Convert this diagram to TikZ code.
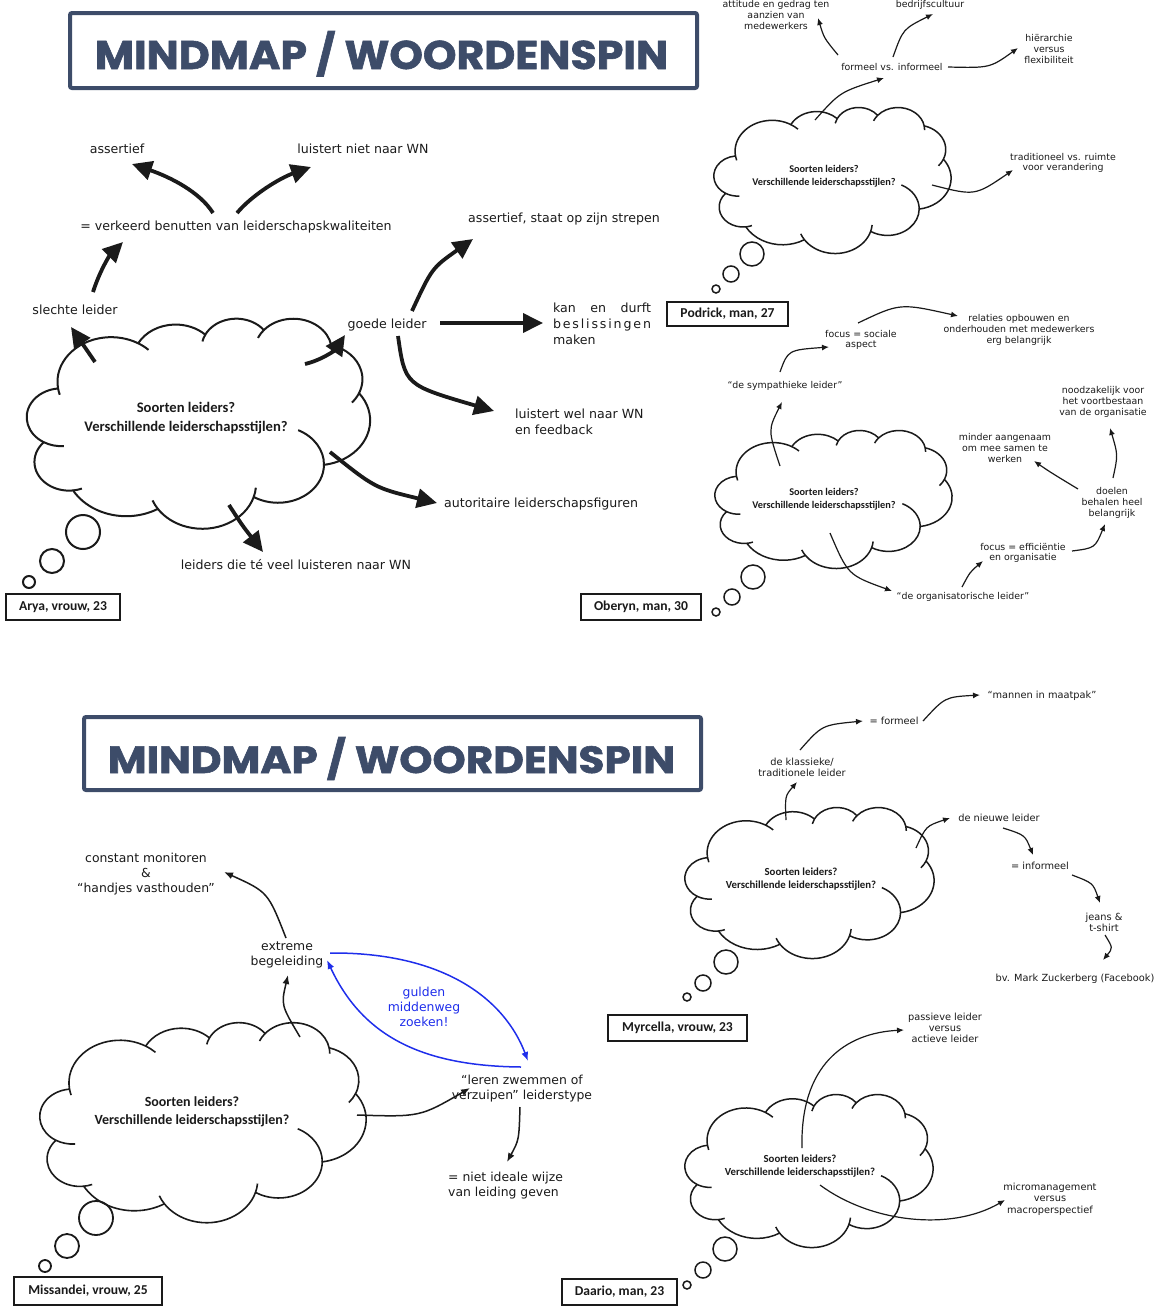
\documentclass[tikz,border=0pt]{standalone}
\usepackage{graphicx}
\usepackage{fontspec}
\setmainfont{DejaVu Sans}
\newfontfamily\calibfont{Carlito}
\newfontfamily\titlefont{Poppins}[BoldFeatures={FakeBold=1.5}]
\usetikzlibrary{arrows.meta}

\definecolor{slate}{HTML}{3D4C69}
\definecolor{ink}{HTML}{1A1A1A}
\definecolor{bluepen}{HTML}{1F2EEB}

% Each lobe of the cloud is an elliptic arc; the angles below are the visual
% angles of the lobe ends, turned into parametric angles for TikZ.
\newcommand\setcloudarc[5]{%
  \pgfmathsetmacro\cldA{atan2(#2*sin(#4),#3*cos(#4))}%
  \pgfmathsetmacro\cldB{atan2(#2*sin(#4+#5),#3*cos(#4+#5))}%
  \pgfmathsetmacro\cldD{(#5>0) ? mod((\cldB)-(\cldA)+720,360) : -mod((\cldA)-(\cldB)+720,360)}%
  \expandafter\xdef\csname cloudS#1\endcsname{\cldA}%
  \expandafter\xdef\csname cloudD#1\endcsname{\cldD}%
}
% outline lobes (units of 1/1000 of the 43.2 box)
\setcloudarc{a}{6.753}{9.190}{-190.4875}{123.7805}
\setcloudarc{b}{5.333}{7.267}{-144.1024}{89.9452}
\setcloudarc{c}{4.365}{5.945}{-145.8079}{99.7230}
\setcloudarc{d}{4.857}{6.595}{-130.9861}{117.2417}
\setcloudarc{e}{5.333}{7.273}{-78.7089}{109.0269}
\setcloudarc{f}{6.775}{9.220}{-46.2673}{130.2690}
\setcloudarc{g}{5.785}{7.867}{0.6250}{114.0333}
\setcloudarc{h}{6.752}{9.215}{22.4516}{115.1726}
\setcloudarc{i}{7.720}{10.543}{66.2426}{75.7110}
\setcloudarc{j}{4.360}{5.918}{-274.9421}{146.7356}
\setcloudarc{k}{4.345}{5.945}{-246.8285}{152.5189}
% short fold lines, drawn from the junctions of the lobes
\setcloudarc{A}{6.753}{9.190}{169.5125}{-11.8582}
\setcloudarc{B}{6.753}{9.190}{-66.7070}{12.3194}
\setcloudarc{C}{4.365}{5.945}{-145.8079}{-17.6864}
\setcloudarc{D}{4.857}{6.595}{-130.9861}{-18.1954}
\setcloudarc{E}{4.857}{6.595}{-13.7444}{14.8589}
\setcloudarc{F}{5.333}{7.273}{30.3180}{19.7813}
\setcloudarc{G}{5.785}{7.867}{0.6250}{-70.9174}
\setcloudarc{H}{6.752}{9.215}{22.4516}{-15.9984}
\setcloudarc{I}{6.752}{9.215}{137.6242}{14.0811}
\setcloudarc{J}{4.360}{5.918}{-274.9421}{-11.4475}
\setcloudarc{K}{4.345}{5.945}{-246.8285}{-26.4295}

% \thoughtcloud[line width]{left}{top}{width}{height}
\newcommand\thoughtcloud[5][1.5pt]{%
  \begin{scope}[shift={(#2,#3)}, x=1cm, y=1cm, xscale=#4/1229.16, yscale=-#5/1229.16]
    \draw[line width=#1, ink, line join=round] (3.9,14.37) coordinate (cj0)
      arc[start angle=\cloudSa, delta angle=\cloudDa, x radius=6.753, y radius=9.190] coordinate (cj1)
      arc[start angle=\cloudSb, delta angle=\cloudDb, x radius=5.333, y radius=7.267] coordinate (cj2)
      arc[start angle=\cloudSc, delta angle=\cloudDc, x radius=4.365, y radius=5.945] coordinate (cj3)
      arc[start angle=\cloudSd, delta angle=\cloudDd, x radius=4.857, y radius=6.595] coordinate (cj4)
      arc[start angle=\cloudSe, delta angle=\cloudDe, x radius=5.333, y radius=7.273] coordinate (cj5)
      arc[start angle=\cloudSf, delta angle=\cloudDf, x radius=6.775, y radius=9.220] coordinate (cj6)
      arc[start angle=\cloudSg, delta angle=\cloudDg, x radius=5.785, y radius=7.867] coordinate (cj7)
      arc[start angle=\cloudSh, delta angle=\cloudDh, x radius=6.752, y radius=9.215] coordinate (cj8)
      arc[start angle=\cloudSi, delta angle=\cloudDi, x radius=7.720, y radius=10.543] coordinate (cj9)
      arc[start angle=\cloudSj, delta angle=\cloudDj, x radius=4.360, y radius=5.918] coordinate (cj10)
      arc[start angle=\cloudSk, delta angle=\cloudDk, x radius=4.345, y radius=5.945] -- cycle;
    \draw[line width=#1, ink]
      (cj0) arc[start angle=\cloudSA, delta angle=\cloudDA, x radius=6.753, y radius=9.190]
      (cj1) arc[start angle=\cloudSB, delta angle=\cloudDB, x radius=6.753, y radius=9.190]
      (cj2) arc[start angle=\cloudSC, delta angle=\cloudDC, x radius=4.365, y radius=5.945]
      (cj3) arc[start angle=\cloudSD, delta angle=\cloudDD, x radius=4.857, y radius=6.595]
      (cj4) arc[start angle=\cloudSE, delta angle=\cloudDE, x radius=4.857, y radius=6.595]
      (cj5) arc[start angle=\cloudSF, delta angle=\cloudDF, x radius=5.333, y radius=7.273]
      (cj6) arc[start angle=\cloudSG, delta angle=\cloudDG, x radius=5.785, y radius=7.867]
      (cj7) arc[start angle=\cloudSH, delta angle=\cloudDH, x radius=6.752, y radius=9.215]
      (cj8) arc[start angle=\cloudSI, delta angle=\cloudDI, x radius=6.752, y radius=9.215]
      (cj9) arc[start angle=\cloudSJ, delta angle=\cloudDJ, x radius=4.360, y radius=5.918]
      (cj10) arc[start angle=\cloudSK, delta angle=\cloudDK, x radius=4.345, y radius=5.945];
  \end{scope}}

\begin{document}
\begin{tikzpicture}[x=1pt, y=-1pt,
  txt/.style={inner sep=0pt, align=center, text=ink},
  bigtxt/.style={txt, font=\fontsize{12.6}{16}\selectfont},
  midtxt/.style={txt, font=\fontsize{12.4}{15}\selectfont},
  smalltxt/.style={txt, font=\fontsize{9.4}{10.7}\selectfont},
  smalltxtb/.style={txt, font=\fontsize{9.8}{11.3}\selectfont},
  cloudbig/.style={txt, font=\calibfont\bfseries\fontsize{14.6}{19}\selectfont},
  cloudmid/.style={txt, font=\calibfont\bfseries\fontsize{14}{18}\selectfont},
  cloudsmall/.style={txt, font=\calibfont\bfseries\fontsize{10.3}{12.6}\selectfont},
  cloudsmallb/.style={txt, font=\calibfont\bfseries\fontsize{10.8}{13}\selectfont},
  who/.style={draw=ink, line width=2.4pt, inner sep=0pt, text=ink,
    font=\calibfont\bfseries\fontsize{13.6}{16}\selectfont},
  titlebox/.style={draw=slate, line width=4pt, rounded corners=2pt},
  bubble/.style={draw=ink},
  fat/.style={draw=ink, line width=3.8pt, -{Triangle[length=20pt,width=19pt]}},
  thin/.style={draw=ink, line width=1.2pt, -{Latex[length=7pt,width=6pt]}},
  medium/.style={draw=ink, line width=1.5pt, -{Latex[length=9pt,width=7pt]}},
  bluearr/.style={draw=bluepen, line width=1.5pt, -{Latex[length=9pt,width=7pt]}}]

\useasboundingbox (0,0) rectangle (1161,1315);
\clip (0,0) rectangle (1161,1315);

% ---------------- titles ----------------
\draw[titlebox] (70,13) rectangle (697,88);
\node[text=slate, inner sep=0pt, anchor=base] (title1) at (381.5,69)
  {\resizebox{573pt}{38pt}{\titlefont\bfseries MINDMAP / WOORDENSPIN}};
\draw[titlebox] (84,717) rectangle (701,790);
\node[text=slate, inner sep=0pt, anchor=base] (title2) at (391.5,773)
  {\resizebox{567pt}{36pt}{\titlefont\bfseries MINDMAP / WOORDENSPIN}};

% ---------------- Arya ----------------
\thoughtcloud[2pt]{27}{318}{343}{210}
\node[cloudbig] (aryaq) at (186,418) {Soorten leiders?\\Verschillende leiderschapsstijlen?};
\draw[bubble, line width=2pt] (83,532) circle[radius=17] (52,561) circle[radius=12] (29,582) circle[radius=6];
\node[who, minimum width=114pt, minimum height=26pt] (arya) at (63,607) {Arya, vrouw, 23};

\node[bigtxt] (assert) at (117,149) {assertief};
\node[bigtxt] (nietwn) at (363,149) {luistert niet naar WN};
\node[bigtxt] (verkeerd) at (236,227) {= verkeerd benutten van leiderschapskwaliteiten};
\node[bigtxt] (slecht) at (75,310) {slechte leider};
\node[bigtxt] (goed) at (387,325) {goede leider};
\node[bigtxt] (strepen) at (564,219) {assertief, staat op zijn strepen};
\node[bigtxt, align=left] (durft) at (602,324)
  {\makebox[98pt][s]{kan\hfill en\hfill durft}\\
   \makebox[98pt][s]{b\hfill e\hfill s\hfill l\hfill i\hfill s\hfill s\hfill i\hfill n\hfill g\hfill e\hfill n}\\
   \makebox[98pt][l]{maken}};
\node[bigtxt, align=left, anchor=west] (welwn) at (515,422) {luistert wel naar WN\\en feedback};
\node[bigtxt, anchor=west] (autor) at (444,504) {autoritaire leiderschapsfiguren};
\node[bigtxt] (teveel) at (296,565) {leiders die té veel luisteren naar WN};

\coordinate (a1s) at (213,213); \coordinate (a1e) at (132,164);
\coordinate (a2s) at (237,213); \coordinate (a2e) at (311,167);
\coordinate (a3s) at (93,292);  \coordinate (a3e) at (123,242);
\coordinate (a4s) at (95,362);  \coordinate (a4e) at (71,327);
\coordinate (a5s) at (305,364); \coordinate (a5e) at (345,335);
\coordinate (a6s) at (412,311); \coordinate (a6e) at (473,239);
\coordinate (a7s) at (440,323); \coordinate (a7e) at (543,323);
\coordinate (a8s) at (398,336); \coordinate (a8e) at (494,411);
\coordinate (a9s) at (330,452); \coordinate (a9e) at (437,503);
\coordinate (a10s) at (229,505); \coordinate (a10e) at (263,552);
\draw[fat] (a1s) .. controls (200,192) and (170,177) .. (a1e);
\draw[fat] (a2s) .. controls (252,195) and (280,178) .. (a2e);
\draw[fat] (a3s) .. controls (100,270) and (110,255) .. (a3e);
\draw[fat] (a4s) -- (a4e);
\draw[fat] (a5s) .. controls (322,360) and (335,350) .. (a5e);
\draw[fat] (a6s) .. controls (432,268) .. (a6e);
\draw[fat] (a7s) -- (a7e);
\draw[fat] (a8s) .. controls (405,385) .. (a8e);
\draw[fat] (a9s) .. controls (375,488) .. (a9e);
\draw[fat] (a10s) .. controls (242,525) .. (a10e);

% ---------------- Podrick ----------------
\thoughtcloud{714}{107}{237}{146}
\node[cloudsmall] (podq) at (824,176) {Soorten leiders?\\Verschillende leiderschapsstijlen?};
\draw[bubble, line width=1.5pt] (752,254) circle[radius=12] (731,274) circle[radius=8] (716,289) circle[radius=4];
\node[who, minimum width=121pt, minimum height=24pt] (podrick) at (727.5,314) {Podrick, man, 27};

\node[smalltxt] (attitude) at (776,15) {attitude en gedrag ten\\aanzien van\\medewerkers};
\node[smalltxt] (cultuur) at (930,4.5) {bedrijfscultuur};
\node[smalltxt] (formeel) at (892,67) {formeel vs. informeel};
\node[smalltxt] (hier) at (1049,49) {hiërarchie\\versus\\flexibiliteit};
\node[smalltxt] (trad) at (1063,163) {traditioneel vs. ruimte\\voor verandering};

\coordinate (p1s) at (815,120);  \coordinate (p1e) at (884,78);
\coordinate (p2s) at (838,55);   \coordinate (p2e) at (818,18);
\coordinate (p3s) at (893,57);   \coordinate (p3e) at (933,14);
\coordinate (p4s) at (948,67);   \coordinate (p4e) at (1018,48);
\coordinate (p5s) at (932,185);  \coordinate (p5e) at (1013,170);
\draw[thin] (p1s) .. controls (840,92) .. (p1e);
\draw[thin] (p2s) .. controls (824,38) .. (p2e);
\draw[thin] (p3s) .. controls (903,29) .. (p3e);
\draw[thin] (p4s) .. controls (990,68) .. (p4e);
\draw[thin] (p5s) .. controls (975,196) .. (p5e);

% ---------------- Oberyn ----------------
\thoughtcloud{715}{430}{237}{138}
\node[cloudsmall] (oberq) at (824,499) {Soorten leiders?\\Verschillende leiderschapsstijlen?};
\draw[bubble, line width=1.5pt] (753,577) circle[radius=12] (732,597) circle[radius=8] (716,612) circle[radius=4];
\node[who, minimum width=120pt, minimum height=26pt] (oberyn) at (641,607) {Oberyn, man, 30};

\node[smalltxt] (relaties) at (1019,330) {relaties opbouwen en\\onderhouden met medewerkers\\erg belangrijk};
\node[smalltxt] (sociaal) at (861,340) {focus = sociale\\aspect};
\node[smalltxt] (sympa) at (785,386) {“de sympathieke leider”};
\node[smalltxt] (nood) at (1103,402) {noodzakelijk voor\\het voortbestaan\\van de organisatie};
\node[smalltxt] (minder) at (1005,448) {minder aangenaam\\om mee samen te\\werken};
\node[smalltxt] (doelen) at (1112,503) {doelen\\behalen heel\\belangrijk};
\node[smalltxt] (effic) at (1023,553) {focus = efficiëntie\\en organisatie};
\node[smalltxt] (organ) at (963,597) {“de organisatorische leider”};

\coordinate (o1s) at (780,466);  \coordinate (o1e) at (782,402);
\coordinate (o2s) at (780,372);  \coordinate (o2e) at (829,347);
\coordinate (o3s) at (858,323);  \coordinate (o3e) at (958,316);
\coordinate (o4s) at (830,533);  \coordinate (o4e) at (892,591);
\coordinate (o5s) at (962,587);  \coordinate (o5e) at (983,561);
\coordinate (o6s) at (1072,551); \coordinate (o6e) at (1105,524);
\coordinate (o7s) at (1113,478); \coordinate (o7e) at (1110,428);
\coordinate (o8s) at (1078,489); \coordinate (o8e) at (1034,461);
\draw[thin] (o1s) .. controls (768,430) .. (o1e);
\draw[thin] (o2s) .. controls (788,350) .. (o2e);
\draw[thin] (o3s) .. controls (900,303) .. (o3e);
\draw[thin] (o4s) .. controls (848,575) .. (o4e);
\draw[thin] (o5s) .. controls (970,572) .. (o5e);
\draw[thin] (o6s) .. controls (1095,548) .. (o6e);
\draw[thin] (o7s) .. controls (1118,455) .. (o7e);
\draw[thin] (o8s) .. controls (1050,472) .. (o8e);

% ---------------- Missandei ----------------
\thoughtcloud[1.6pt]{40}{1022}{326}{200}
\node[cloudmid] (misq) at (192,1112) {Soorten leiders?\\Verschillende leiderschapsstijlen?};
\draw[bubble, line width=1.8pt] (96,1218) circle[radius=17] (67,1246) circle[radius=12] (45,1266) circle[radius=6];
\node[who, minimum width=148pt, minimum height=28pt] (missandei) at (88,1291) {Missandei, vrouw, 25};

\node[midtxt] (monitor) at (146,874) {constant monitoren\\\&\\“handjes vasthouden”};
\node[midtxt] (extreem) at (287,955) {extreme\\begeleiding};
\node[midtxt, text=bluepen] (gulden) at (424,1007) {gulden\\middenweg\\zoeken!};
\node[midtxt] (zwemmen) at (522,1089) {“leren zwemmen of\\verzuipen” leiderstype};
\node[midtxt, align=left, anchor=west] (nietideaal) at (448,1186) {= niet ideale wijze\\van leiding geven};

\coordinate (m1s) at (300,1037); \coordinate (m1e) at (288,975);
\coordinate (m2s) at (286,938);  \coordinate (m2e) at (224,872);
\coordinate (m3s) at (357,1115); \coordinate (m3e) at (470,1088);
\coordinate (m4s) at (520,1107); \coordinate (m4e) at (507,1162);
\coordinate (b1s) at (330,953);  \coordinate (b1e) at (528,1061);
\coordinate (b2s) at (521,1067); \coordinate (b2e) at (327,960);
\draw[medium] (m1s) .. controls (281,1005) .. (m1e);
\draw[medium] (m2s) .. controls (268,892) .. (m2e);
\draw[medium] (m3s) .. controls (420,1117) .. (m3e);
\draw[medium] (m4s) .. controls (519,1140) .. (m4e);
\draw[bluearr] (b1s) .. controls (445,952) and (505,1000) .. (b1e);
\draw[bluearr] (b2s) .. controls (420,1066) and (362,1035) .. (b2e);

% ---------------- Myrcella ----------------
\thoughtcloud{685}{807}{249}{151}
\node[cloudsmallb] (myrq) at (801,879) {Soorten leiders?\\Verschillende leiderschapsstijlen?};
\draw[bubble, line width=1.5pt] (726,962) circle[radius=12] (703,983) circle[radius=8] (687,997) circle[radius=4];
\node[who, minimum width=139pt, minimum height=26pt] (myrcella) at (677.5,1028) {Myrcella, vrouw, 23};

\node[smalltxtb] (maatpak) at (1042,696) {“mannen in maatpak”};
\node[smalltxtb] (isformeel) at (894,721) {= formeel};
\node[smalltxtb] (klassiek) at (802,767) {de klassieke/\\traditionele leider};
\node[smalltxtb] (nieuw) at (999,818) {de nieuwe leider};
\node[smalltxtb] (isinformeel) at (1040,866) {= informeel};
\node[smalltxtb] (jeans) at (1104,922) {jeans \&\\t-shirt};
\node[smalltxtb] (zuck) at (1075,979) {bv. Mark Zuckerberg (Facebook)};

\coordinate (y1s) at (786,820);  \coordinate (y1e) at (797,782);
\coordinate (y2s) at (800,750);  \coordinate (y2e) at (863,721);
\coordinate (y3s) at (923,721);  \coordinate (y3e) at (980,695);
\coordinate (y4s) at (916,848);  \coordinate (y4e) at (950,818);
\coordinate (y5s) at (1003,828); \coordinate (y5e) at (1033,855);
\coordinate (y6s) at (1072,875); \coordinate (y6e) at (1100,903);
\coordinate (y7s) at (1105,935); \coordinate (y7e) at (1103,960);
\draw[thin] (y1s) .. controls (785,796) .. (y1e);
\draw[thin] (y2s) .. controls (822,725) .. (y2e);
\draw[thin] (y3s) .. controls (945,697) .. (y3e);
\draw[thin] (y4s) .. controls (926,826) .. (y4e);
\draw[thin] (y5s) .. controls (1025,835) .. (y5e);
\draw[thin] (y6s) .. controls (1093,883) .. (y6e);
\draw[thin] (y7s) .. controls (1113,948) .. (y7e);

% ---------------- Daario ----------------
\thoughtcloud{685}{1094}{248}{153}
\node[cloudsmallb] (daq) at (800,1166) {Soorten leiders?\\Verschillende leiderschapsstijlen?};
\draw[bubble, line width=1.5pt] (725,1249) circle[radius=12] (703,1270) circle[radius=8] (687,1285) circle[radius=4];
\node[who, minimum width=115pt, minimum height=26pt] (daario) at (619.5,1292) {Daario, man, 23};

\node[smalltxtb] (passief) at (945,1028) {passieve leider\\versus\\actieve leider};
\node[smalltxtb] (micro) at (1050,1199) {micromanagement\\versus\\macroperspectief};

\coordinate (d1s) at (802,1148); \coordinate (d1e) at (904,1030);
\coordinate (d2s) at (820,1185); \coordinate (d2e) at (1005,1200);
\draw[thin] (d1s) .. controls (800,1065) and (845,1033) .. (d1e);
\draw[thin] (d2s) .. controls (870,1222) and (950,1232) .. (d2e);
\end{tikzpicture}
\end{document}
